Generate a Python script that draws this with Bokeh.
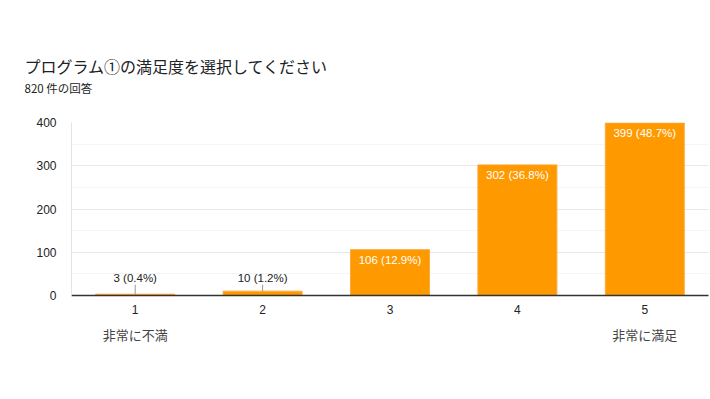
from bokeh.plotting import figure
from bokeh.models import FactorRange, Range1d, CategoricalAxis, Title, ColumnDataSource, SingleIntervalTicker
from bokeh.core.properties import value
from bokeh.embed import file_html
from bokeh.resources import INLINE

# ---- data ----
title_text = "プログラム①の満足度を選択してください"
subtitle_text = "820 件の回答"
categories = ["1", "2", "3", "4", "5"]
counts = [3, 10, 106, 302, 399]
total = 820
scale_labels = ["非常に不満", "", "", "", "非常に満足"]
y_max = 400
y_step = 100

# ---- styles ----
ORANGE = "#ff9900"
NUM_FONT = "Liberation Sans"
JP_FONT = "Noto Sans CJK JP"
INSIDE_MIN = 40      # bars taller than this get labels inside
LEADER_TOP = 25      # leader line top for small bars

labels = [f"{c} ({c / total * 100:.1f}%)" for c in counts]
inside = [c > INSIDE_MIN for c in counts]
src_in = ColumnDataSource(dict(
    x=[k for k, f in zip(categories, inside) if f],
    y=[c for c, f in zip(counts, inside) if f],
    t=[l for l, f in zip(labels, inside) if f]))
src_out = ColumnDataSource(dict(
    x=[k for k, f in zip(categories, inside) if not f],
    y=[c for c, f in zip(counts, inside) if not f],
    y0=[0 for f in inside if not f],
    ytop=[LEADER_TOP for f in inside if not f],
    t=[l for l, f in zip(labels, inside) if not f]))

# unique factors for the scale-end axis (blank ones padded with distinct spaces)
scale_factors = [s if s else " " * (i + 1) for i, s in enumerate(scale_labels)]

p = figure(x_range=FactorRange(*categories, range_padding=0),
           y_range=Range1d(0, y_max),
           width=710, height=392, output_backend="svg", toolbar_location=None,
           min_border_left=71, min_border_right=2, min_border_bottom=97, min_border_top=122)
p.extra_x_ranges = {"scale": FactorRange(*scale_factors, range_padding=0)}
p.outline_line_color = None
p.background_fill_color = "white"
p.border_fill_color = "white"

# titles (spacer first, closest to the frame)
spacer = Title(text=" ", text_font_size="5px", standoff=19)
p.add_layout(spacer, "above")
sub = Title(text=subtitle_text, align="left", offset=-47, text_font=JP_FONT,
            text_font_size="11.5px", text_font_style="normal", text_color="#222222", standoff=0)
p.add_layout(sub, "above")
main = Title(text=title_text, align="left", offset=-47, text_font=JP_FONT,
             text_font_size="16px", text_font_style="normal", text_color="#202124", standoff=0)
p.add_layout(main, "above")

# bars
p.vbar(x=categories, top=counts, width=0.62, fill_color=ORANGE, line_color="#ffa940", line_width=1)

# labels inside bars
p.text(x="x", y="y", text="t", source=src_in, text_color="white", text_align="center",
       text_baseline="top", y_offset=4, text_font=value(NUM_FONT), text_font_size="11.5px")
# labels above small bars, with leader lines
p.segment(x0="x", y0="y", x1="x", y1="ytop", source=src_out, line_color="#999999", line_width=1)
p.text(x="x", y="y0", text="t", source=src_out, text_color="#222222", text_align="center",
       text_baseline="bottom", y_offset=-12, text_font=value(NUM_FONT), text_font_size="11.5px")

# y axis / grid
p.yaxis.ticker = SingleIntervalTicker(interval=y_step, num_minor_ticks=2)
p.yaxis.axis_line_color = "#e4e4e4"
p.yaxis.major_tick_line_color = None
p.yaxis.minor_tick_line_color = None
p.yaxis.major_label_standoff = 9
p.yaxis.major_label_text_font = NUM_FONT
p.yaxis.major_label_text_font_size = "12px"
p.yaxis.major_label_text_color = "#222222"
p.ygrid.grid_line_color = "#e8e8e8"
p.ygrid.minor_grid_line_color = "#f4f4f4"
p.xgrid.grid_line_color = None

# x axis
p.xaxis.axis_line_color = "#333333"
p.xaxis.axis_line_width = 1.5
p.xaxis.major_tick_line_color = None
p.xaxis.major_label_standoff = 3
p.xaxis.major_label_text_font = NUM_FONT
p.xaxis.major_label_text_font_size = "12px"
p.xaxis.major_label_text_color = "#222222"

ax2 = CategoricalAxis(x_range_name="scale", axis_line_color=None,
                      major_tick_line_color=None, major_label_standoff=2,
                      major_label_text_font=JP_FONT, major_label_text_font_size="13px",
                      major_label_text_color="#444444")
p.add_layout(ax2, "below")

open("out.html", "w").write(file_html(p, INLINE))
